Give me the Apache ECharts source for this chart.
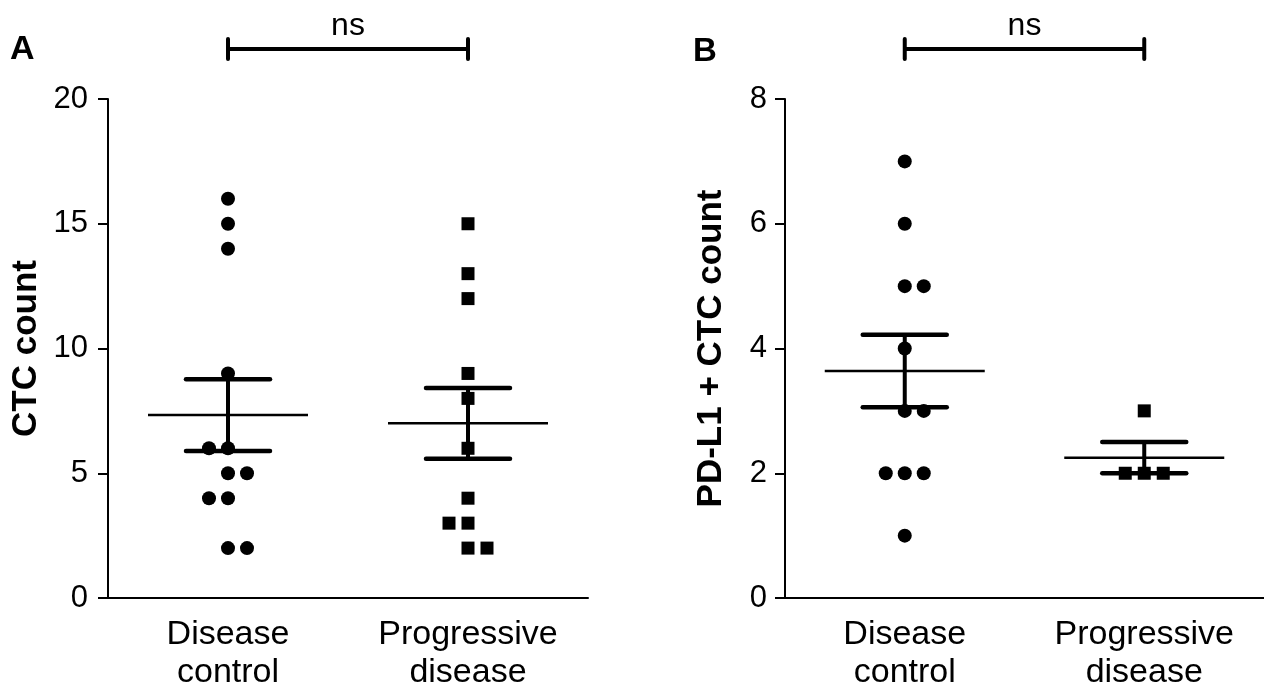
<!DOCTYPE html>
<html>
<head>
<meta charset="utf-8">
<script src="https://cdn.jsdelivr.net/npm/echarts@6/dist/echarts.min.js"></script>
<style>
html,body{margin:0;padding:0;background:#fff;}
#chart{width:1264px;height:693px;}
</style>
</head>
<body>
<div id="chart"></div>
<script>
// ---- data ----
const categories = ['Disease\ncontrol', 'Progressive\ndisease'];
const yTicksA = [0, 5, 10, 15, 20];
const yTicksB = [0, 2, 4, 6, 8];

// Panel A: CTC count
const ctcControl = [16, 15, 14, 9, 6, 6, 5, 5, 4, 4, 2, 2];
const ctcControlSlot = [0, 0, 0, 0, -1, 0, 0, 1, -1, 0, 0, 1];
const ctcProgressive = [15, 13, 12, 9, 8, 6, 4, 3, 3, 2, 2];
const ctcProgressiveSlot = [0, 0, 0, 0, 0, 0, 0, -1, 0, 0, 1];
const ctcMean = [7.33, 7.0];
const ctcSem = [1.44, 1.42];

// Panel B: PD-L1 + CTC count
const pdlControl = [7, 6, 5, 5, 4, 3, 3, 2, 2, 2, 1];
const pdlControlSlot = [0, 0, 0, 1, 0, 0, 1, -1, 0, 1, 0];
const pdlProgressive = [3, 2, 2, 2];
const pdlProgressiveSlot = [0, -1, 0, 1];
const pdlMean = [3.64, 2.25];
const pdlSem = [0.58, 0.25];

const sigLabel = 'ns';

// ---- styling ----
const INK = '#000000';
const FONT = '"Liberation Sans", Arial, Helvetica, sans-serif';
const SLOT_PX = 19;

function points(values, slots, cat) {
  return values.map((v, i) => ({ value: [cat, v], symbolOffset: [slots[i] * SLOT_PX, 0] }));
}

function errData(means, sems) {
  return means.map((m, i) => [i, m, sems[i]]);
}

function renderErr(params, api) {
  const c = api.value(0), m = api.value(1), s = api.value(2);
  const pm = api.coord([c, m]);
  const ph = api.coord([c, m + s]);
  const pl = api.coord([c, m - s]);
  const x = pm[0];
  const meanHalf = 80, capHalf = 42;
  return {
    type: 'group',
    children: [
      { type: 'line', shape: { x1: x - meanHalf, y1: pm[1], x2: x + meanHalf, y2: pm[1] },
        style: { stroke: INK, lineWidth: 2.5 } },
      { type: 'line', shape: { x1: x, y1: ph[1], x2: x, y2: pl[1] },
        style: { stroke: INK, lineWidth: 4 } },
      { type: 'line', shape: { x1: x - capHalf, y1: ph[1], x2: x + capHalf, y2: ph[1] },
        style: { stroke: INK, lineWidth: 4.5, lineCap: 'round' } },
      { type: 'line', shape: { x1: x - capHalf, y1: pl[1], x2: x + capHalf, y2: pl[1] },
        style: { stroke: INK, lineWidth: 4.5, lineCap: 'round' } }
    ]
  };
}

function makeBracket(yMax) {
  return function (params, api) {
    const p0 = api.coord([api.value(0), yMax]);
    const p1 = api.coord([api.value(1), yMax]);
    const y = p0[1] - 50;
    return {
      type: 'group',
      children: [
        { type: 'line', shape: { x1: p0[0], y1: y, x2: p1[0], y2: y },
          style: { stroke: INK, lineWidth: 4 } },
        { type: 'line', shape: { x1: p0[0], y1: y - 10, x2: p0[0], y2: y + 10 },
          style: { stroke: INK, lineWidth: 4, lineCap: 'round' } },
        { type: 'line', shape: { x1: p1[0], y1: y - 10, x2: p1[0], y2: y + 10 },
          style: { stroke: INK, lineWidth: 4, lineCap: 'round' } },
        { type: 'text', x: (p0[0] + p1[0]) / 2, y: y - 7,
          style: { text: sigLabel, fill: INK, font: '32px ' + FONT, align: 'center', verticalAlign: 'bottom' } }
      ]
    };
  };
}

function xAxis(gridIndex) {
  return {
    type: 'category', gridIndex, data: categories, boundaryGap: true,
    axisLine: { lineStyle: { color: INK, width: 2 } },
    axisTick: { alignWithLabel: true, length: 10, lineStyle: { color: INK, width: 2 } },
    axisLabel: { color: INK, fontSize: 34, fontFamily: FONT, lineHeight: 38, margin: 18, interval: 0 },
    splitLine: { show: false }
  };
}

function yAxis(gridIndex, ticks, name, gap, margin) {
  return {
    type: 'value', gridIndex, min: ticks[0], max: ticks[ticks.length - 1],
    interval: ticks[1] - ticks[0],
    name, nameLocation: 'middle', nameRotate: 90, nameGap: gap,
    nameTextStyle: { color: INK, fontSize: 35, fontWeight: 'bold', fontFamily: FONT },
    axisLine: { show: true, lineStyle: { color: INK, width: 2 } },
    axisTick: { show: true, length: 10, lineStyle: { color: INK, width: 2 } },
    axisLabel: { color: INK, fontSize: 31, fontFamily: FONT, margin },
    splitLine: { show: false }
  };
}

const scatterBase = { type: 'scatter', symbolSize: 14, itemStyle: { color: INK, opacity: 1 }, z: 5, silent: true };

const option = {
  backgroundColor: '#ffffff',
  animation: false,
  grid: [
    { left: 108, top: 99, width: 480, height: 499 },
    { left: 785, top: 99, width: 479, height: 499 }
  ],
  xAxis: [xAxis(0), xAxis(1)],
  yAxis: [
    yAxis(0, yTicksA, 'CTC count', 64, 20),
    yAxis(1, yTicksB, 'PD-L1 + CTC count', 56, 18)
  ],
  graphic: [
    { type: 'text', left: 10, top: 33, style: { text: 'A', fill: INK, font: 'bold 34px ' + FONT } },
    { type: 'text', left: 693, top: 35, style: { text: 'B', fill: INK, font: 'bold 33px ' + FONT } }
  ],
  series: [
    Object.assign({}, scatterBase, { xAxisIndex: 0, yAxisIndex: 0, symbol: 'circle',
      data: points(ctcControl, ctcControlSlot, 0) }),
    Object.assign({}, scatterBase, { xAxisIndex: 0, yAxisIndex: 0, symbol: 'rect', symbolSize: 13,
      data: points(ctcProgressive, ctcProgressiveSlot, 1) }),
    Object.assign({}, scatterBase, { xAxisIndex: 1, yAxisIndex: 1, symbol: 'circle',
      data: points(pdlControl, pdlControlSlot, 0) }),
    Object.assign({}, scatterBase, { xAxisIndex: 1, yAxisIndex: 1, symbol: 'rect', symbolSize: 13,
      data: points(pdlProgressive, pdlProgressiveSlot, 1) }),
    { type: 'custom', xAxisIndex: 0, yAxisIndex: 0, renderItem: renderErr, z: 3, clip: false,
      data: errData(ctcMean, ctcSem), silent: true },
    { type: 'custom', xAxisIndex: 1, yAxisIndex: 1, renderItem: renderErr, z: 3, clip: false,
      data: errData(pdlMean, pdlSem), silent: true },
    { type: 'custom', xAxisIndex: 0, yAxisIndex: 0, renderItem: makeBracket(yTicksA[yTicksA.length - 1]),
      clip: false, data: [[0, 1]], silent: true },
    { type: 'custom', xAxisIndex: 1, yAxisIndex: 1, renderItem: makeBracket(yTicksB[yTicksB.length - 1]),
      clip: false, data: [[0, 1]], silent: true }
  ]
};

const chart = echarts.init(document.getElementById('chart'), null, { renderer: 'canvas' });
chart.setOption(option);
</script>
</body>
</html>
